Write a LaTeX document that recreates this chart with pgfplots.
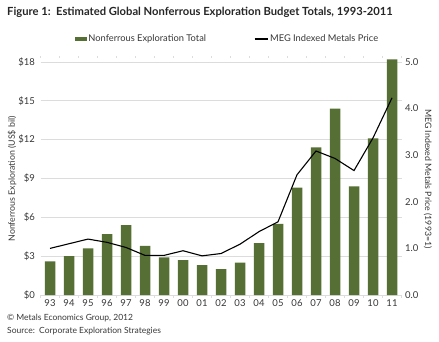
\documentclass[border=0pt]{standalone}
\usepackage{fontspec}
\setmainfont{Lato}
\usepackage{pgfplots}
\pgfplotsset{compat=1.18}
\definecolor{barg}{RGB}{86,111,52}
\definecolor{txt}{RGB}{55,55,55}
\definecolor{gridc}{RGB}{220,220,220}
\pgfplotstableread{
x val
0 2.6
1 3.0
2 3.6
3 4.7
4 5.4
5 3.8
6 2.9
7 2.7
8 2.3
9 2.0
10 2.5
11 4.0
12 5.5
13 8.3
14 11.4
15 14.4
16 8.4
17 12.1
18 18.2
}\explo
\pgfplotstableread{
x val
0 1.00
1 1.10
2 1.20
3 1.13
4 1.02
5 0.85
6 0.85
7 0.95
8 0.84
9 0.89
10 1.09
11 1.36
12 1.57
13 2.58
14 3.09
15 2.93
16 2.67
17 3.37
18 4.23
}\meg
\pgfplotsset{
  mybase/.style={
    width=361pt, height=236.9pt, scale only axis,
    xmin=-0.5, xmax=18.5,
    /pgf/number format/assume math mode=true,
    tick label style={font=\fontsize{9.5}{10}\selectfont, text=txt},
    label style={font=\fontsize{8.8}{10}\selectfont, text=txt},
  }
}
\begin{document}
\begin{tikzpicture}
\path[use as bounding box] (0pt,0pt) rectangle (439pt,341pt);
\begin{axis}[
  mybase,
  at={(40.5pt,46pt)}, anchor=south west,
  ymin=0, ymax=18.3,
  ytick={0,3,...,18},
  yticklabel={\$\pgfmathprintnumber{\tick}},
  ymajorgrids, grid style={gridc, line width=0.8pt},
  axis line style={draw=none},
  xtick={0,...,18},
  xticklabels={93,94,95,96,97,98,99,00,01,02,03,04,05,06,07,08,09,10,11},
  major tick length=0pt,
  minor xtick={-0.5,0.5,...,18.5},
  minor tick length=2.5pt,
  xtick align=outside,
  minor tick style={gridc},
  ylabel={Nonferrous Exploration (US\$ bil)},
  ylabel style={at={(axis description cs:-0.079,0.49)}, anchor=center, rotate=0},
  yticklabel style={xshift=-2pt},
  xticklabel style={yshift=-1pt},
  clip=false,
]
\addplot[ybar, bar width=10.5pt, fill=barg, draw=none] table[x=x,y=val] {\explo};
\end{axis}
\begin{axis}[
  mybase,
  at={(40.5pt,46pt)}, anchor=south west,
  ymin=0, ymax=5.0833,
  axis y line*=right, axis x line=none,
  axis line style={draw=none},
  major tick length=0pt,
  ytick={0,1,...,5},
  yticklabel style={/pgf/number format/.cd, fixed, fixed zerofill, precision=1},
  ylabel={MEG Indexed Metals Price (1993=1)},
  ylabel style={at={(axis description cs:1.0734,0.49)}, anchor=center, rotate=180},
  legend columns=2,
  legend style={at={(0.0956,1.0806)}, anchor=west, draw=none, fill=none,
    font=\fontsize{9.3}{10}\selectfont, text=txt,
    /tikz/every even column/.append style={column sep=46pt},
    inner sep=0pt, outer sep=0pt},
]
\addlegendimage{legend image code/.code={\fill[barg] (0pt,-1.5pt) rectangle (11pt,1.5pt);}}
\addlegendentry{Nonferrous Exploration Total}
\addplot[black, line width=1.1pt, legend image code/.code={\draw[black,line width=1.1pt] (0pt,0pt) -- (13pt,0pt);}] table[x=x,y=val] {\meg};
\addlegendentry{MEG Indexed Metals Price}
\end{axis}
\node[anchor=west, inner sep=0pt, font=\bfseries\fontsize{11.2}{13}\selectfont, text=black!85] at (7pt,329pt) {Figure 1:\ \ Estimated Global Nonferrous Exploration Budget Totals, 1993-2011};
\node[anchor=west, font=\fontsize{8.5}{10}\selectfont, text=txt, inner sep=0pt] at (7pt,23pt) {© Metals Economics Group, 2012};
\node[anchor=west, font=\fontsize{8.5}{10}\selectfont, text=txt, inner sep=0pt] at (7pt,10pt) {Source:\ \ Corporate Exploration Strategies};
\end{tikzpicture}
\end{document}
